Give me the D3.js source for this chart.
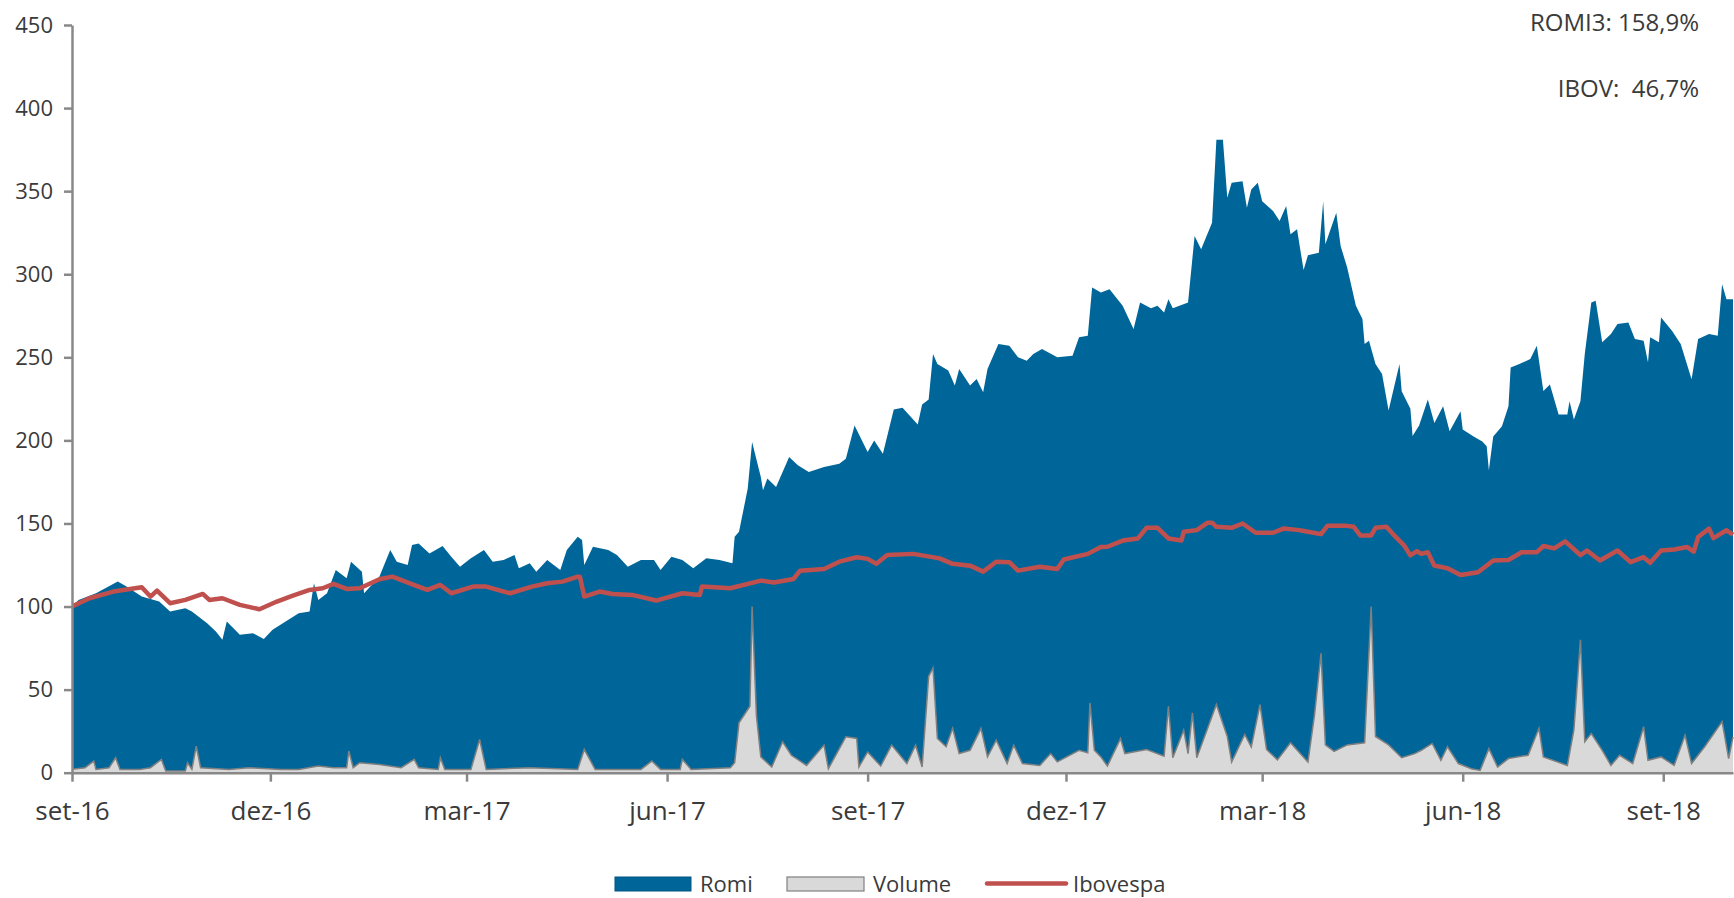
<!DOCTYPE html>
<html>
<head>
<meta charset="utf-8">
<script src="https://cdn.jsdelivr.net/npm/d3@7"></script>
<style>
	body { margin: 0; background: #fff; }
	text { font-family: "Open Sans", sans-serif; fill: #3a3a3a; }
</style>
</head>
<body>
<script>
// Romi (base 100), Ibovespa (base 100) and traded volume
const romi = [
	["2016-09-01",100],["2016-09-04",104],["2016-09-12",108],["2016-09-22",115],["2016-09-26",112],["2016-10-03",106],
	["2016-10-11",103],["2016-10-16",97],["2016-10-23",99],["2016-10-26",97],["2016-11-02",90],["2016-11-06",85],
	["2016-11-09",80],["2016-11-11",91],["2016-11-17",83],["2016-11-23",84],["2016-11-28",80.5],["2016-12-02",86],
	["2016-12-08",91],["2016-12-14",96],["2016-12-19",97],["2016-12-21",114],["2016-12-23",104],["2016-12-27",108],
	["2016-12-31",122],["2017-01-05",117],["2017-01-07",127],["2017-01-12",121],["2017-01-13",108],["2017-01-20",118],
	["2017-01-25",134],["2017-01-28",127],["2017-02-02",125],["2017-02-04",137],["2017-02-07",138],["2017-02-12",132],
	["2017-02-18",136.5],["2017-02-22",130],["2017-02-26",124],["2017-03-03",129],["2017-03-09",134],["2017-03-13",127],
	["2017-03-18",128],["2017-03-23",131],["2017-03-25",123],["2017-03-30",126],["2017-04-02",121],["2017-04-07",128],
	["2017-04-13",122],["2017-04-16",134],["2017-04-21",142],["2017-04-23",140],["2017-04-24",125],["2017-04-28",136],
	["2017-05-05",134],["2017-05-09",131],["2017-05-14",124],["2017-05-20",128],["2017-05-26",128],["2017-05-29",122],
	["2017-06-03",130],["2017-06-08",128],["2017-06-13",123],["2017-06-19",129],["2017-06-25",128],["2017-07-01",126],
	["2017-07-02",142],["2017-07-04",145],["2017-07-08",171],["2017-07-10",199],["2017-07-14",178],["2017-07-15",170],
	["2017-07-17",177],["2017-07-21",172],["2017-07-27",190],["2017-07-31",185],["2017-08-05",181],["2017-08-12",184],
	["2017-08-19",186],["2017-08-22",189],["2017-08-26",209],["2017-09-01",193],["2017-09-04",200],["2017-09-08",192],
	["2017-09-13",218.6],["2017-09-17",219.6],["2017-09-24",209.5],["2017-09-26",221.6],["2017-09-29",224.6],["2017-10-01",252],
	["2017-10-03",246],["2017-10-08",242],["2017-10-11",233],["2017-10-13",243],["2017-10-18",233],["2017-10-21",237],
	["2017-10-24",229],["2017-10-26",243],["2017-10-31",258],["2017-11-05",257],["2017-11-09",250],["2017-11-13",248],
	["2017-11-16",252],["2017-11-20",255],["2017-11-27",250],["2017-12-04",251],["2017-12-07",262],["2017-12-11",263],
	["2017-12-13",292],["2017-12-17",289],["2017-12-21",291],["2017-12-24",286],["2017-12-27",281],["2018-01-01",267],
	["2018-01-04",283],["2018-01-09",279.5],["2018-01-12",281],["2018-01-15",277],["2018-01-17",285],["2018-01-19",279.5],
	["2018-01-26",283],["2018-01-29",323],["2018-02-01",315],["2018-02-06",331],["2018-02-08",381],["2018-02-11",381],
	["2018-02-13",346],["2018-02-15",355],["2018-02-20",356],["2018-02-22",340],["2018-02-24",351],["2018-02-27",355],
	["2018-03-01",344],["2018-03-06",338],["2018-03-09",332],["2018-03-12",341],["2018-03-14",324],["2018-03-17",327],
	["2018-03-20",302.5],["2018-03-22",311.5],["2018-03-27",313],["2018-03-29",344],["2018-03-30",318],["2018-04-04",337],
	["2018-04-06",317],["2018-04-09",304],["2018-04-13",281],["2018-04-16",273],["2018-04-17",258],["2018-04-19",260],
	["2018-04-22",246],["2018-04-25",240],["2018-04-28",218],["2018-05-03",246],["2018-05-04",229.5],["2018-05-08",219],
	["2018-05-09",202.6],["2018-05-12",209],["2018-05-16",224.6],["2018-05-19",210.5],["2018-05-23",220.6],["2018-05-26",205.5],
	["2018-05-31",217.6],["2018-06-01",206.5],["2018-06-06",202.4],["2018-06-10",199.4],["2018-06-12",196.4],["2018-06-13",182],
	["2018-06-15",202.4],["2018-06-19",208.5],["2018-06-22",220.6],["2018-06-23",243.8],["2018-06-27",245.9],["2018-07-02",249],
	["2018-07-05",257],["2018-07-08",229.7],["2018-07-11",233.7],["2018-07-15",215.6],["2018-07-19",215.6],["2018-07-20",223.6],
	["2018-07-22",212.5],["2018-07-25",223.6],["2018-07-27",252],["2018-07-30",283],["2018-08-01",284],["2018-08-04",259],
	["2018-08-08",264],["2018-08-11",270],["2018-08-16",271],["2018-08-19",261],["2018-08-23",260],["2018-08-25",247],
	["2018-08-26",262],["2018-08-30",259],["2018-08-31",274],["2018-09-05",266],["2018-09-09",258],["2018-09-14",236.8],
	["2018-09-17",261],["2018-09-22",264],["2018-09-26",263],["2018-09-28",294],["2018-09-30",285],["2018-10-03",285]
];

const ibovespa = [
	["2016-09-01",100],["2016-09-09",105],["2016-09-20",109],["2016-10-03",111.6],["2016-10-07",106],["2016-10-10",109.6],
	["2016-10-16",102],["2016-10-23",104],["2016-10-31",107.6],["2016-11-03",104],["2016-11-09",105],["2016-11-17",101],
	["2016-11-26",98.4],["2016-12-04",103],["2016-12-11",106.4],["2016-12-19",110],["2016-12-25",111],["2016-12-30",113.6],
	["2017-01-05",110.6],["2017-01-11",111],["2017-01-20",116.4],["2017-01-26",118],["2017-02-03",114],["2017-02-11",110],
	["2017-02-17",113],["2017-02-22",108],["2017-03-04",112],["2017-03-10",112],["2017-03-21",108],["2017-03-31",112],
	["2017-04-07",114],["2017-04-14",115],["2017-04-21",118],["2017-04-22",118],["2017-04-24",106],["2017-05-01",109],
	["2017-05-07",107.6],["2017-05-16",107],["2017-05-27",103.6],["2017-06-08",108],["2017-06-16",107],["2017-06-17",112],
	["2017-06-30",111],["2017-07-14",115.6],["2017-07-20",114.5],["2017-07-29",116.6],["2017-08-01",121.6],["2017-08-12",122.6],
	["2017-08-19",127],["2017-08-27",129.7],["2017-09-01",128.7],["2017-09-05",125.7],["2017-09-10",131],["2017-09-22",131.7],
	["2017-10-04",129],["2017-10-10",125.7],["2017-10-18",124.6],["2017-10-24",121],["2017-10-30",127],["2017-11-05",126.7],
	["2017-11-09",121.6],["2017-11-19",124],["2017-11-27",122.6],["2017-11-30",128.3],["2017-12-11",131.7],["2017-12-17",135.8],
	["2017-12-20",136],["2017-12-27",139.7],["2018-01-03",141],["2018-01-07",147.4],["2018-01-12",147.4],["2018-01-17",141],
	["2018-01-23",139.7],["2018-01-24",145],["2018-01-30",146],["2018-02-04",150.5],["2018-02-06",150.5],["2018-02-08",148],
	["2018-02-15",147.4],["2018-02-20",150],["2018-02-26",144.4],["2018-03-06",144.4],["2018-03-11",147],["2018-03-18",146],
	["2018-03-22",145],["2018-03-28",143.6],["2018-03-31",148.7],["2018-04-08",148.7],["2018-04-12",148],["2018-04-15",142.8],
	["2018-04-20",142.8],["2018-04-22",147.4],["2018-04-27",148],["2018-04-30",143.6],["2018-05-05",137],["2018-05-08",130.8],
	["2018-05-11",133.3],["2018-05-13",131.7],["2018-05-16",132.7],["2018-05-19",124.6],["2018-05-25",123],["2018-05-31",119],
	["2018-06-03",119.6],["2018-06-08",120.6],["2018-06-15",127.7],["2018-06-22",128],["2018-06-28",132.7],["2018-07-05",132.7],
	["2018-07-08",136.4],["2018-07-13",135],["2018-07-18",139.2],["2018-07-25",131],["2018-07-28",133.7],["2018-08-03",127.7],
	["2018-08-11",133.7],["2018-08-17",126.7],["2018-08-23",129.7],["2018-08-26",126.3],["2018-08-31",133.7],["2018-09-06",134.3],
	["2018-09-12",135.8],["2018-09-15",133],["2018-09-17",141.8],["2018-09-22",146.9],["2018-09-24",141.2],["2018-09-30",145.9],
	["2018-10-03",143.2]
];

const volume = [
	["2016-09-01",2],["2016-09-07",3],["2016-09-11",7],["2016-09-12",2],["2016-09-18",3],["2016-09-21",9],["2016-09-23",2],
	["2016-10-02",2],["2016-10-07",3],["2016-10-12",8],["2016-10-14",1],["2016-10-23",1],["2016-10-24",6],["2016-10-26",2],
	["2016-10-28",16],["2016-10-30",3],["2016-11-12",2],["2016-11-21",3],["2016-12-06",2],["2016-12-14",2],["2016-12-23",4],
	["2016-12-30",3],["2017-01-05",3],["2017-01-06",13],["2017-01-08",3],["2017-01-11",6],["2017-01-20",5],["2017-01-30",3],
	["2017-02-05",8],["2017-02-07",3],["2017-02-16",2],["2017-02-17",9],["2017-02-19",2],["2017-03-03",2],["2017-03-07",20],
	["2017-03-10",2],["2017-03-30",3],["2017-04-21",2],["2017-04-24",14],["2017-04-29",2],["2017-05-20",2],["2017-05-25",7],
	["2017-05-29",2],["2017-06-07",2],["2017-06-08",8],["2017-06-12",2],
	["2017-06-30",3],["2017-07-02",6],["2017-07-04",30],["2017-07-09",40],["2017-07-10",100],["2017-07-12",34],["2017-07-14",9.5],
	["2017-07-19",3.4],["2017-07-24",18.6],["2017-07-28",10.5],["2017-08-04",4.4],["2017-08-12",16.6],["2017-08-14",2.4],
	["2017-08-22",21.6],["2017-08-27",20.6],["2017-08-28",3.4],["2017-09-01",12.5],["2017-09-07",4],["2017-09-12",16.6],
	["2017-09-19",5.5],["2017-09-23",16.6],["2017-09-26",3.4],["2017-09-29",58],["2017-10-01",63],["2017-10-03",20.6],
	["2017-10-07",15.6],["2017-10-10",26.7],["2017-10-13",11.5],["2017-10-18",13.5],["2017-10-23",26.7],["2017-10-26",9.5],
	["2017-10-30",19.6],["2017-11-04",5.5],["2017-11-07",16.6],["2017-11-11",5.5],["2017-11-19",4.4],["2017-11-24",11.5],
	["2017-11-27",6.5],["2017-12-07",13.5],["2017-12-11",12],["2017-12-12",42],["2017-12-14",13.5],["2017-12-17",9.5],
	["2017-12-20",4],["2017-12-26",20.5],["2017-12-28",11.5],["2018-01-07",14],["2018-01-15",10],["2018-01-17",40],
	["2018-01-19",9],["2018-01-24",25.6],
	["2018-01-26",11.5],["2018-01-28",36],["2018-01-30",9],["2018-02-08",41],["2018-02-13",21.8],["2018-02-15",6.4],
	["2018-02-21",23],["2018-02-24",15.4],["2018-02-28",41],["2018-03-03",14],["2018-03-08",7.7],["2018-03-14",18],
	["2018-03-22",6.4],["2018-03-25",34.6],["2018-03-28",71.8],["2018-03-30",16.7],["2018-04-03",12.8],["2018-04-09",16.7],
	["2018-04-17",18],["2018-04-20",100],["2018-04-22",21.8],["2018-04-28",16.7],["2018-05-04",9],["2018-05-10",11.5],
	["2018-05-13",13.5],["2018-05-18",17.6],["2018-05-22",7.5],["2018-05-25",15.6],["2018-05-30",5.5],["2018-06-05",2.4],
	["2018-06-09",1.4],["2018-06-13",14.5],["2018-06-17",3.4],["2018-06-22",8.5],["2018-07-01",10.5],["2018-07-06",26.7],
	["2018-07-08",9.5],["2018-07-19",4.4],["2018-07-22",25.7],["2018-07-25",80],["2018-07-27",18.6],["2018-07-30",23.6],
	["2018-08-04",13.5],["2018-08-08",4.4],["2018-08-12",10.5],["2018-08-18",5.5],["2018-08-23",27.7],["2018-08-25",7.5],
	["2018-08-31",9.5],["2018-09-06",4.4],["2018-09-11",22.6],["2018-09-14",5.5],["2018-09-20",15.6],["2018-09-28",30.7],
	["2018-10-01",8.5],["2018-10-03",21.6]
];

const xTickDates = ["2016-09-01","2016-12-01","2017-03-01","2017-06-01","2017-09-01","2017-12-01","2018-03-01","2018-06-01","2018-09-01"];
const xTickLabels = ["set-16","dez-16","mar-17","jun-17","set-17","dez-17","mar-18","jun-18","set-18"];
const yTicks = [0, 50, 100, 150, 200, 250, 300, 350, 400, 450];
const notes = ["ROMI3: 158,9%", "IBOV:  46,7%"];
const legendItems = ["Romi", "Volume", "Ibovespa"];

const colors = { romi: "#00669a", volume: "#d9d9d9", volumeLine: "#808080", ibov: "#c0504d", axis: "#888888" };

const parse = d3.timeParse("%Y-%m-%d");
const plotLeft = 72, plotRight = 1733, plotTop = 25, plotBottom = 772.7;

const svg = d3.select("body").append("svg")
	.attr("width", 1734)
	.attr("height", 898);

const x = d3.scaleTime()
	.domain([parse("2016-09-01"), parse("2018-10-03")])
	.range([plotLeft, plotRight]);

const y = d3.scaleLinear()
	.domain([0, 450])
	.range([plotBottom, plotTop]);

svg.append("clipPath").attr("id", "plot")
	.append("rect").attr("x", plotLeft).attr("y", plotTop)
	.attr("width", plotRight - plotLeft + 1).attr("height", plotBottom - plotTop);

const plot = svg.append("g").attr("clip-path", "url(#plot)");

const area = d3.area()
	.x(d => x(parse(d[0])))
	.y0(y(0))
	.y1(d => y(d[1]));

const line = d3.line()
	.x(d => x(parse(d[0])))
	.y(d => y(d[1]));

plot.append("path")
	.datum(romi)
	.attr("d", area)
	.attr("fill", colors.romi);

plot.append("path")
	.datum(volume)
	.attr("d", area)
	.attr("fill", colors.volume);

plot.append("path")
	.datum(volume)
	.attr("d", line)
	.attr("fill", "none")
	.attr("stroke", colors.volumeLine)
	.attr("stroke-width", 1.5);

plot.append("path")
	.datum(ibovespa)
	.attr("d", line)
	.attr("fill", "none")
	.attr("stroke", colors.ibov)
	.attr("stroke-width", 4.5)
	.attr("stroke-linejoin", "round");

// axes
const yAxis = svg.append("g")
	.attr("transform", `translate(${plotLeft},0)`)
	.call(d3.axisLeft(y).tickValues(yTicks).tickSize(8).tickSizeOuter(0).tickPadding(11));

const xAxis = svg.append("g")
	.attr("transform", `translate(0,${plotBottom})`)
	.call(d3.axisBottom(x)
		.tickValues(xTickDates.map(parse))
		.tickFormat((d, i) => xTickLabels[i])
		.tickSize(9).tickSizeOuter(0).tickPadding(20));

[yAxis, xAxis].forEach(g => {
	g.selectAll("path, line").attr("stroke", colors.axis).attr("stroke-width", 2.5);
});
yAxis.selectAll("text").style("font-size", "22px").attr("fill", "#3a3a3a");
xAxis.selectAll("text").style("font-size", "26px").attr("fill", "#3a3a3a");

// returns in the top right corner
svg.selectAll(".note")
	.data(notes)
	.enter().append("text")
	.attr("class", "note")
	.attr("x", 1699)
	.attr("y", (d, i) => 31 + i * 66)
	.attr("text-anchor", "end")
	.style("font-size", "24px")
	.style("white-space", "pre")
	.text(d => d);

// legend
const legend = svg.append("g");
legend.append("rect")
	.attr("x", 615).attr("y", 877).attr("width", 76).attr("height", 14)
	.attr("fill", colors.romi).attr("stroke", "#005580").attr("stroke-width", 1);
legend.append("rect")
	.attr("x", 787).attr("y", 877).attr("width", 77).attr("height", 14)
	.attr("fill", colors.volume).attr("stroke", colors.volumeLine).attr("stroke-width", 1.2);
legend.append("line")
	.attr("x1", 987).attr("x2", 1066).attr("y1", 883.5).attr("y2", 883.5)
	.attr("stroke", colors.ibov).attr("stroke-width", 4.5).attr("stroke-linecap", "round");

legend.selectAll("text")
	.data(legendItems)
	.enter().append("text")
	.attr("x", (d, i) => [700, 873, 1073][i])
	.attr("y", 892)
	.style("font-size", "22px")
	.text(d => d);
</script>
</body>
</html>
